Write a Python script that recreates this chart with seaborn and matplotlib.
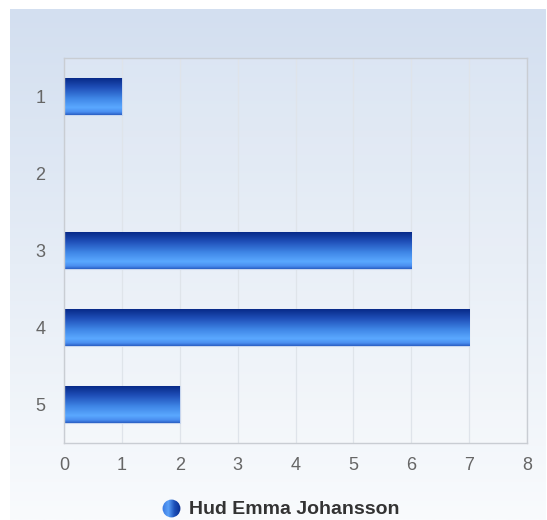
import numpy as np
import pandas as pd
import matplotlib
matplotlib.use("Agg")
import matplotlib.pyplot as plt
from matplotlib.colors import LinearSegmentedColormap
from matplotlib.patches import Circle
import seaborn as sns

categories = ["1", "2", "3", "4", "5"]
values = [1, 0, 6, 7, 2]
x_ticks = [0, 1, 2, 3, 4, 5, 6, 7, 8]
series_name = "Hud Emma Johansson"

df = pd.DataFrame({"cat": categories, "val": values})

sns.set_style("white")
plt.rcParams["font.family"] = ["Liberation Sans", "DejaVu Sans"]

W, H = 547, 520
fig = plt.figure(figsize=(W / 100, H / 100), dpi=100)
fig.patch.set_facecolor("white")

# background gradient panel
bg = fig.add_axes([10 / W, 0, 536 / W, 511 / H], zorder=-10)
bg_cmap = LinearSegmentedColormap.from_list("bg", ["#d3dff0", "#e6edf6", "#f9fbfd"])
bg.imshow(np.linspace(0, 1, 256).reshape(-1, 1), cmap=bg_cmap, aspect="auto",
          extent=(0, 1, 0, 1), origin="upper")
bg.set_axis_off()

ax = fig.add_axes([64 / W, 1 - 443 / H, (527 - 64) / W, (443 - 58) / H])
ax.set_facecolor((1, 1, 1, 0.15))

sns.barplot(data=df, x="val", y="cat", orient="h", color="#2a62c8",
            width=0.48, ax=ax, linewidth=0.8, edgecolor="#c8d6ee")

bar_cmap = LinearSegmentedColormap.from_list(
    "bar", [(0.0, "#082a88"), (0.25, "#1f4fb8"), (0.55, "#3f86e6"),
            (0.8, "#5aa8ff"), (0.92, "#4a8ef0"), (1.0, "#2a5fc4")])
grad = np.linspace(0, 1, 128).reshape(-1, 1)
for p in list(ax.patches):
    x0, y0 = p.get_x(), p.get_y()
    w, h = p.get_width(), p.get_height()
    if w <= 0:
        continue
    im = ax.imshow(grad, cmap=bar_cmap, aspect="auto", origin="upper",
                   extent=(x0, x0 + w, y0 + h, y0), zorder=p.get_zorder() + 0.1)
    im.set_clip_path(p)

ax.set_xlim(0, 8)
ax.set_ylim(4.5, -0.5)
ax.set_xticks(x_ticks)
ax.set_xticklabels([str(t) for t in x_ticks])
ax.set_xlabel("")
ax.set_ylabel("")
ax.grid(axis="x", color="#dfe4ea", linewidth=0.9)
ax.set_axisbelow(True)
for s in ax.spines.values():
    s.set_color("#c9cdd3")
    s.set_linewidth(1.0)
ax.tick_params(axis="both", length=0, labelsize=13, labelcolor="#666666")
ax.tick_params(axis="x", pad=10)
ax.tick_params(axis="y", pad=13.5)

# legend
lax = fig.add_axes([162 / W, 1 - 518 / H, 19 / W, 19 / H])
lax.set_xlim(0, 1)
lax.set_ylim(0, 1)
lax.set_axis_off()
leg_cmap = LinearSegmentedColormap.from_list("leg", ["#3a78e0", "#5aa0f8", "#1c4fb8", "#0a2f90"])
im = lax.imshow(np.linspace(0, 1, 64).reshape(1, -1), cmap=leg_cmap, aspect="auto",
                extent=(0, 1, 0, 1))
circ = Circle((0.5, 0.5), 0.47, transform=lax.transData, facecolor="none", edgecolor="none")
lax.add_patch(circ)
im.set_clip_path(circ)
fig.text(189 / W, 1 - 510 / H, series_name, fontsize=14, fontweight="bold",
         color="#333333", va="center", ha="left")

fig.savefig("out.png", dpi=100)
